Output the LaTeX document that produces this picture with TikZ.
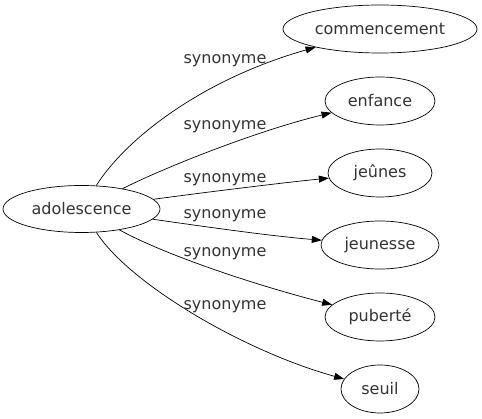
\documentclass[tikz,border=0pt]{standalone}
\usepackage{fontspec}
\setmainfont{DejaVu Sans}
\usetikzlibrary{shapes.geometric}
\usetikzlibrary{arrows.meta}

\begin{document}
\begin{tikzpicture}[x=1pt, y=-1pt, line width=0.7pt]
    \tikzstyle{word}=[draw, ellipse, inner sep=0pt, minimum height=48pt,
      font=\fontsize{16}{19}\selectfont, text=black!80]
    \tikzstyle{rel}=[font=\fontsize{16}{19}\selectfont, text=black!80]
    \tikzstyle{syn}=[draw, -{Triangle[length=10pt,width=7pt]}]
    \useasboundingbox (0,0) rectangle (482,419);
    \node[word, minimum width=157pt, minimum height=47pt] (ado) at (81.5,209) {adolescence};
    \node[word, minimum width=194pt] (com) at (380,29) {commencement};
    \node[word, minimum width=110pt] (enf) at (380,101) {enfance};
    \node[word, minimum width=104pt] (jeu) at (380,173) {jeûnes};
    \node[word, minimum width=118pt] (jns) at (380,245) {jeunesse};
    \node[word, minimum width=110pt] (pub) at (380,317) {puberté};
    \node[word, minimum width=78pt] (seu) at (380,389) {seuil};
    \draw[syn] (ado) .. controls (125,140) and (200,80) .. (com);
    \draw[syn] (ado) .. controls (170,165) and (260,130) .. (enf);
    \draw[syn] (ado) .. controls (200,193) and (280,183) .. (jeu);
    \draw[syn] (ado) .. controls (200,226) and (270,236) .. (jns);
    \draw[syn] (ado) .. controls (165,255) and (255,285) .. (pub);
    \draw[syn] (ado) .. controls (128,282) and (240,350) .. (seu);
    \node[rel] (l1) at (225,60.5) {synonyme};
    \node[rel] (l2) at (225,126.5) {synonyme};
    \node[rel] (l3) at (225,180) {synonyme};
    \node[rel] (l4) at (225,216) {synonyme};
    \node[rel] (l5) at (225,254) {synonyme};
    \node[rel] (l6) at (225,307) {synonyme};
\end{tikzpicture}
\end{document}
